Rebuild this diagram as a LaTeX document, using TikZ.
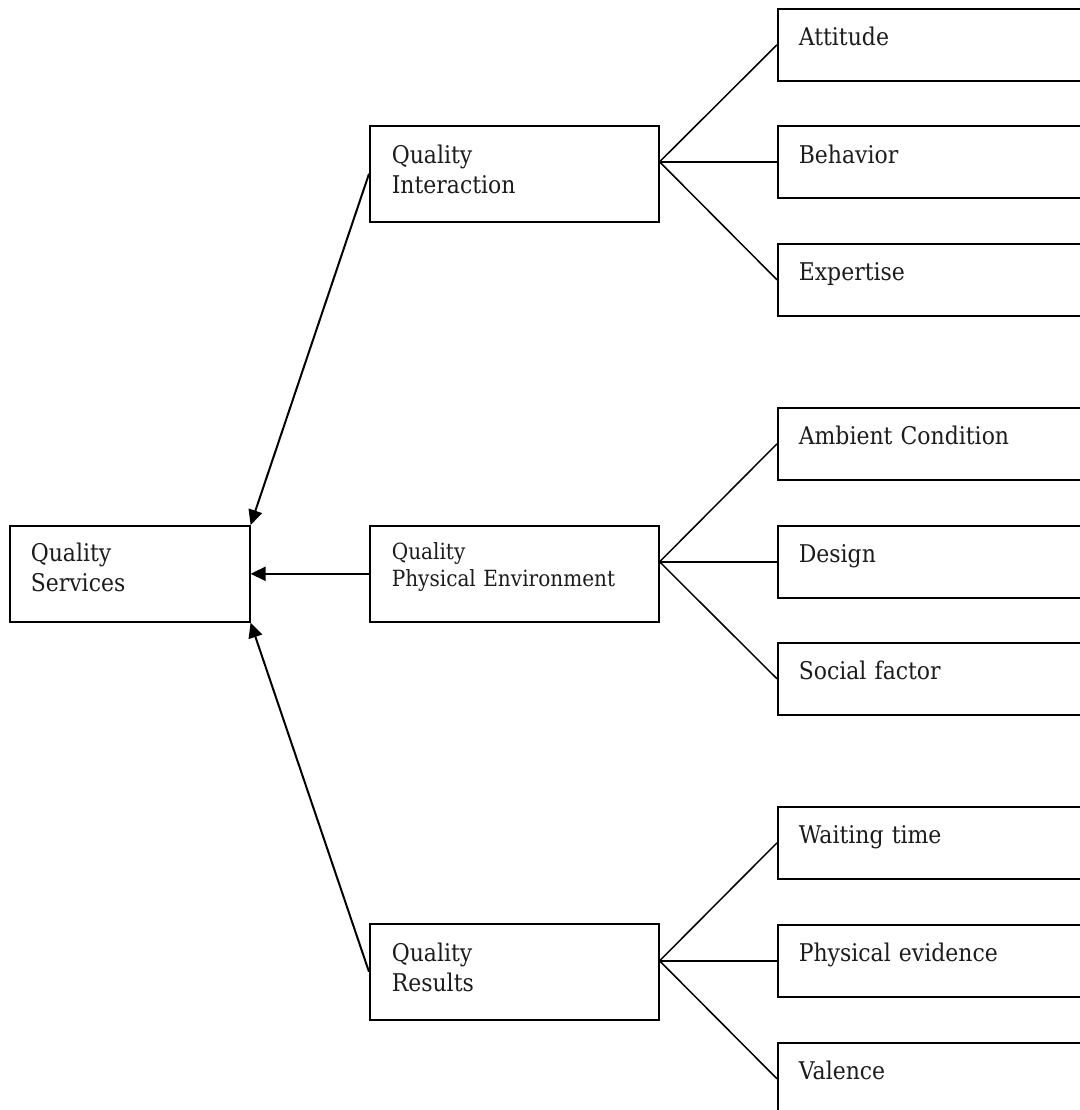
\documentclass[tikz,border=0pt]{standalone}
\usepackage{fontspec}
\setmainfont{DejaVu Serif}[FakeStretch=0.9]
\usepackage{xcolor}
\usepackage{tikz}
\usetikzlibrary{arrows.meta,positioning}
\definecolor{ink}{HTML}{1C1C1C}
\tikzset{
  box/.style={draw=black,line width=1.6pt,anchor=north west,inner xsep=21pt,inner ysep=0pt,
    align=left,text=ink,font=\fontsize{24.4}{30}\selectfont},
  mainbox/.style={box,text width=198pt,text height=36pt,text depth=60pt},
  midbox/.style={box,inner xsep=22pt,text width=245pt,text height=38pt,text depth=58pt},
  subbox/.style={box,text width=271pt,text height=37pt,text depth=35pt},
  fan/.style={draw=black,line width=1.5pt},
  feed/.style={-{Triangle[length=15pt,width=14pt]},draw=black,line width=2pt}
}
\begin{document}
\begin{tikzpicture}[x=1pt,y=-1pt]
  \useasboundingbox (0,0) rectangle (1079,1110);
  \node[mainbox] (qs) at (9,525) {Quality\\Services};
  \node[midbox] (qi) at (369,125) {Quality\\Interaction};
  \node[midbox,font=\fontsize{22.3}{27}\selectfont,text height=34pt,text depth=62pt] (qpe) at (369,525) {Quality\\Physical Environment};
  \node[midbox] (qr) at (369,923) {Quality\\Results};
  % interaction
  \node[subbox] (att) at (777,8) {Attitude};
  \node[subbox,text height=38pt,text depth=34pt] (beh) at (777,125) {Behavior};
  \node[subbox] (exp) at (777,243) {Expertise};
  % physical environment
  \node[subbox] (amb) at (777,407) {Ambient Condition};
  \node[subbox] (des) at (777,525) {Design};
  \node[subbox] (soc) at (777,642) {Social factor};
  % results
  \node[subbox] (wait) at (777,806) {Waiting time};
  \node[subbox] (phy) at (777,924) {Physical evidence};
  \node[subbox] (val) at (777,1042) {Valence};
  \coordinate (fi) at (qi.east |- beh.west);
  \coordinate (fp) at (qpe.east |- des.west);
  \coordinate (fr) at (qr.east |- phy.west);
  \draw[fan] (fi) -- (att.west); \draw[fan] (fi) -- (beh.west); \draw[fan] (fi) -- (exp.west);
  \draw[fan] (fp) -- (amb.west); \draw[fan] (fp) -- (des.west); \draw[fan] (fp) -- (soc.west);
  \draw[fan] (fr) -- (wait.west); \draw[fan] (fr) -- (phy.west); \draw[fan] (fr) -- (val.west);
  \draw[feed] (qi.west) -- (qs.north east);
  \draw[feed] (qpe.west) -- (qs.east);
  \draw[feed] (qr.west) -- (qs.south east);
\end{tikzpicture}
\end{document}
